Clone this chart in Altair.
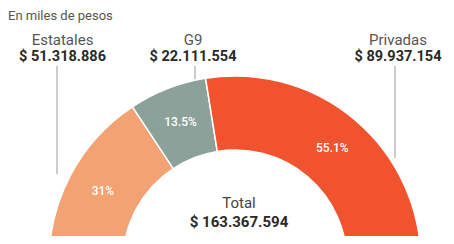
import math
import altair as alt
import pandas as pd

# ---- data ----
categories = ["Estatales", "G9", "Privadas"]
amounts = [51318886, 22111554, 89937154]
pct_labels = ["31%", "13.5%", "55.1%"]
amount_labels = ["$ 51.318.886", "$ 22.111.554", "$ 89.937.154"]
subtitle = "En miles de pesos"
total_title = "Total"
total_label = "$ 163.367.594"

colors = ["#F2A273", "#8DA19B", "#F2532F"]

df = pd.DataFrame({
    "cat": categories,
    "amount": amounts,
    "pct": pct_labels,
    "order": list(range(len(categories))),
})

W, H = 438, 228
CX, CY = 227, 254
R_OUT, R_IN = 186, 112
FONT = "Roboto"

theta = alt.Theta("amount:Q", stack=True,
                  scale=alt.Scale(range=[-math.pi / 2, math.pi / 2]))
color = alt.Color("cat:N", scale=alt.Scale(domain=categories, range=colors), legend=None)
order = alt.Order("order:Q")

base = alt.Chart(df)
arcs = base.mark_arc(radius=R_OUT, radius2=R_IN, stroke="white", strokeWidth=1.5).encode(
    theta=theta, color=color, order=order,
    x=alt.value(CX), y=alt.value(CY),
)
pcts = base.mark_text(radius=150, color="white", fontSize=12, font=FONT, fontWeight=500).encode(
    theta=theta, order=order, text="pct:N",
    x=alt.value(CX), y=alt.value(CY),
)

one = pd.DataFrame({"a": [0]})


def txt(s, x, y, size, weight="normal", col="#444444", align="center"):
    return alt.Chart(one).mark_text(
        text=s, fontSize=size, fontWeight=weight, color=col, font=FONT,
        align=align, baseline="middle"
    ).encode(x=alt.value(x), y=alt.value(y))


def vline(x, y1, y2):
    return alt.Chart(one).mark_rule(color="#9a9a9a", strokeWidth=1).encode(
        x=alt.value(x), y=alt.value(y1), y2=alt.value(y2)
    )


header_x = [54.5, 185, 390]
layers = [arcs, pcts,
          txt(subtitle, 0, 8, 13, col="#555555", align="left"),
          txt(total_title, 231, 195, 15, col="#444444"),
          txt(total_label, 231, 214, 15, weight="bold", col="#2a2a2a")]
for cat, lab, hx in zip(categories, amount_labels, header_x):
    layers.append(txt(cat, hx, 32, 15, col="#555555"))
    layers.append(txt(lab, hx, 49, 14.5, weight="bold", col="#2a2a2a"))

layers += [vline(49, 58, 166), vline(187, 58, 71), vline(387, 58, 150)]

chart = alt.layer(*layers).properties(
    width=W, height=H,
    autosize=alt.AutoSizeParams(type="none"),
    padding=0,
).configure_view(stroke=None)

chart.save("out.html", embed_options={"renderer": "svg", "actions": False})
